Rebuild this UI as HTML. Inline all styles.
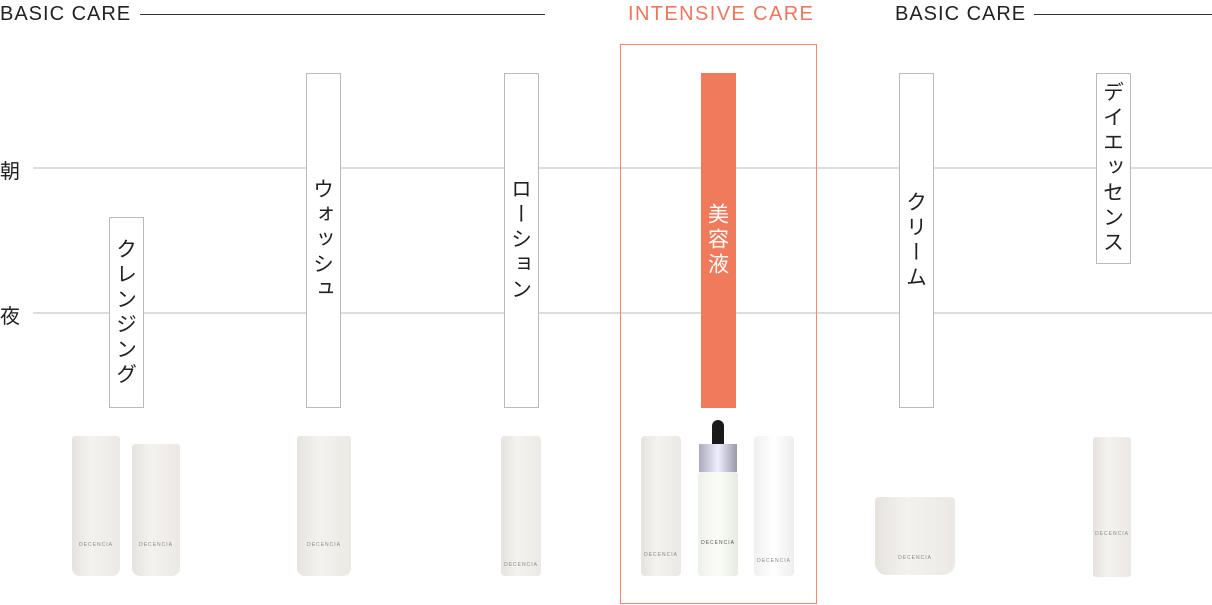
<!DOCTYPE html>
<html><head><meta charset="utf-8"><style>
body{margin:0;width:1212px;height:605px;background:#fff;position:relative;overflow:hidden;font-family:"Liberation Sans","Noto Sans CJK JP",sans-serif;}
.a{position:absolute}
.h{font-size:20px;color:#222;letter-spacing:1px;top:3px;font-weight:500}
.ln{height:1px;background:#333}
.hl{height:2px;background:#ddd;left:33px;width:1179px}
.box{position:absolute;width:33px;border:1px solid #bbb;background:#fff;display:flex;align-items:center;justify-content:center;writing-mode:vertical-rl;font-size:21px;color:#222;letter-spacing:4px;font-family:"Noto Sans CJK JP",sans-serif}
.p{position:absolute;background:linear-gradient(90deg,#e6e3df,#f4f2ef 40%,#ece9e5);border-radius:3px}
.lbl{position:absolute;font-size:5px;color:#888;letter-spacing:1px;width:100%;text-align:center}
</style></head><body>
<div class="a h" style="left:0">BASIC CARE</div>
<div class="a ln" style="left:140px;width:405px;top:14px"></div>
<div class="a h" style="left:628px;color:#ec775c;letter-spacing:1.4px">INTENSIVE CARE</div>
<div class="a h" style="left:895px">BASIC CARE</div>
<div class="a ln" style="left:1034px;width:178px;top:14px"></div>
<div class="a" style="left:0;top:155px;font-size:20px;color:#222;font-family:'Noto Sans CJK JP',sans-serif">朝</div>
<div class="a" style="left:0;top:300px;font-size:20px;color:#222;font-family:'Noto Sans CJK JP',sans-serif">夜</div>
<div class="a hl" style="top:167px"></div>
<div class="a hl" style="top:312px"></div>
<div class="a" style="left:620px;top:44px;width:195px;height:558px;border:1.5px solid #f08a70"></div>
<div class="box" style="left:109px;top:217px;height:189px">クレンジング</div>
<div class="box" style="left:306px;top:73px;height:333px">ウォッシュ</div>
<div class="box" style="left:504px;top:73px;height:333px">ローション</div>
<div class="box" style="left:701px;top:73px;height:335px;width:35px;border:none;background:#f07a5c;color:#fff">美容液</div>
<div class="box" style="left:899px;top:73px;height:333px">クリーム</div>
<div class="box" style="left:1096px;top:73px;height:189px">デイエッセンス</div>
<div class="p" style="left:72px;top:436px;width:48px;height:140px;border-radius:3px 3px 8px 8px"><div class="lbl" style="top:106px">DECENCIA</div></div>
<div class="p" style="left:132px;top:444px;width:48px;height:132px;border-radius:3px 3px 8px 8px"><div class="lbl" style="top:98px">DECENCIA</div></div>
<div class="p" style="left:297px;top:436px;width:54px;height:140px;border-radius:3px 3px 8px 8px"><div class="lbl" style="top:106px">DECENCIA</div></div>
<div class="p" style="left:501px;top:436px;width:40px;height:140px;border-radius:4px"><div class="lbl" style="top:126px">DECENCIA</div></div>
<div class="p" style="left:641px;top:436px;width:40px;height:140px;border-radius:4px"><div class="lbl" style="top:116px">DECENCIA</div></div>
<div class="a" style="left:712px;top:420px;width:12px;height:26px;background:#1a1a1a;border-radius:6px 6px 0 0"></div>
<div class="a" style="left:699px;top:444px;width:38px;height:28px;background:linear-gradient(90deg,#aab,#eef 50%,#99a)"></div>
<div class="a" style="left:698px;top:472px;width:40px;height:104px;background:linear-gradient(90deg,#eef0ea,#fbfcf7 50%,#e8eae4);border-radius:3px"><div class="lbl" style="top:68px;color:#555">DECENCIA</div></div>
<div class="p" style="left:754px;top:436px;width:40px;height:140px;border-radius:4px;background:linear-gradient(90deg,#f0f0f0,#fff 50%,#eee)"><div class="lbl" style="top:122px">DECENCIA</div></div>
<div class="p" style="left:875px;top:497px;width:80px;height:78px;border-radius:4px 4px 12px 12px"><div class="lbl" style="top:58px">DECENCIA</div></div>
<div class="p" style="left:1093px;top:437px;width:38px;height:140px;border-radius:3px"><div class="lbl" style="top:94px">DECENCIA</div></div>
</body></html>
